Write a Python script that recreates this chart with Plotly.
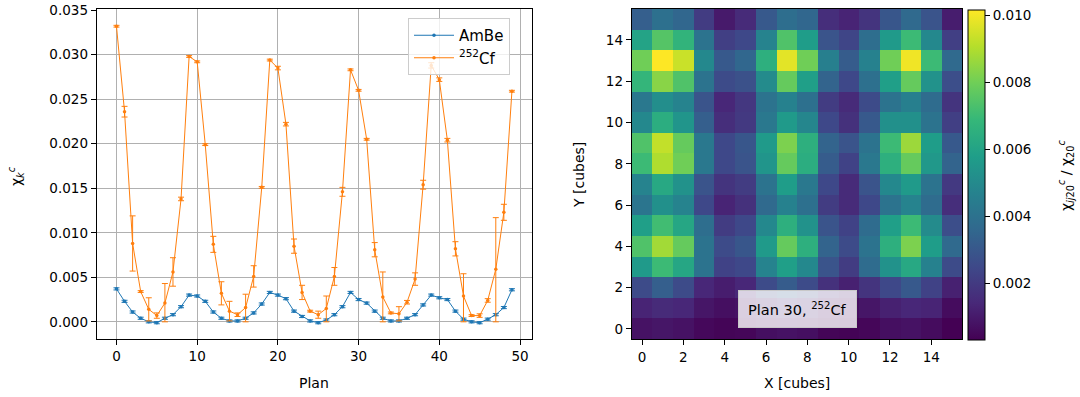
import plotly.graph_objects as go

# ---------------- data: left panel ----------------
plan = list(range(50))
ambe = [0.0037, 0.0023, 0.0011, 0.0004, 0.0000, -0.0001, 0.0004, 0.0008, 0.0017, 0.0030,
        0.0029, 0.0023, 0.0011, 0.0004, 0.0001, 0.0001, 0.0004, 0.0010, 0.0020, 0.0033,
        0.0030, 0.0026, 0.0012, 0.0006, 0.0001, -0.0001, 0.0002, 0.0008, 0.0017, 0.0033,
        0.0025, 0.0021, 0.0012, 0.0004, 0.0001, 0.0001, 0.0004, 0.0008, 0.0019, 0.0030,
        0.0027, 0.0025, 0.0012, 0.0003, 0.0000, -0.0001, 0.0003, 0.0008, 0.0016, 0.0036]
ambe_err = [0.00012] * 50
cf = [0.0332, 0.0236, 0.0088, 0.0034, 0.0014, 0.0007, 0.0021, 0.0056, 0.0138, 0.0298,
      0.0292, 0.0199, 0.0087, 0.0032, 0.0012, 0.0008, 0.0016, 0.0051, 0.0151, 0.0294,
      0.0285, 0.0222, 0.0085, 0.0033, 0.0012, 0.0008, 0.0015, 0.0051, 0.0146, 0.0283,
      0.0260, 0.0205, 0.0081, 0.0028, 0.0010, 0.0009, 0.0022, 0.0048, 0.0154, 0.0288,
      0.0272, 0.0204, 0.0082, 0.0029, 0.0007, 0.0007, 0.0024, 0.0059, 0.0123, 0.0259]
cf_err_up = [0.0001, 0.0006, 0.0031, 0.0001, 0.0013, 0.0003, 0.0022, 0.0016, 0.0002, 0.0001,
             0.0001, 0.0001, 0.0009, 0.0013, 0.0011, 0.0002, 0.0015, 0.0012, 0.0001, 0.0001,
             0.0002, 0.0002, 0.0008, 0.0008, 0.0001, 0.0004, 0.0014, 0.0010, 0.0005, 0.0001,
             0.0001, 0.0001, 0.0008, 0.0028, 0.0001, 0.0008, 0.0002, 0.0007, 0.0005, 0.0003,
             0.0002, 0.0002, 0.0008, 0.0025, 0.0001, 0.0002, 0.0002, 0.0058, 0.0009, 0.0001]
cf_err_down = [0.0001, 0.0006, 0.0031, 0.0001, 0.0013, 0.0003, 0.0021, 0.0016, 0.0002, 0.0001,
               0.0001, 0.0001, 0.0009, 0.0013, 0.0011, 0.0002, 0.0016, 0.0012, 0.0001, 0.0001,
               0.0002, 0.0002, 0.0008, 0.0008, 0.0001, 0.0004, 0.0015, 0.0010, 0.0005, 0.0001,
               0.0001, 0.0001, 0.0008, 0.0028, 0.0001, 0.0008, 0.0002, 0.0007, 0.0005, 0.0003,
               0.0002, 0.0002, 0.0008, 0.0029, 0.0001, 0.0002, 0.0002, 0.0059, 0.0009, 0.0001]
left_yticks = [0.000, 0.005, 0.010, 0.015, 0.020, 0.025, 0.030, 0.035]
left_xticks = [0, 10, 20, 30, 40, 50]

# ---------------- data: right panel (values x 1e-3), row index = Y ----------------
cube_x = list(range(16))
cube_y = list(range(16))
ratio_e3 = [
    [0.79, 0.89, 0.79, 0.50, 0.40, 0.45, 0.69, 0.79, 0.69, 0.40, 0.35, 0.45, 0.69, 0.79, 0.60, 0.30],
    [1.29, 1.48, 1.38, 0.89, 0.69, 0.79, 1.19, 1.68, 1.29, 0.79, 0.60, 0.89, 1.19, 1.38, 1.29, 0.60],
    [2.57, 3.26, 2.57, 1.38, 1.09, 1.38, 2.57, 3.16, 2.57, 1.68, 1.19, 1.78, 2.47, 3.06, 2.27, 1.19],
    [5.62, 7.00, 6.11, 4.04, 2.27, 2.47, 4.73, 5.82, 4.93, 2.86, 2.07, 3.75, 5.32, 6.21, 4.63, 2.57],
    [7.39, 8.77, 7.79, 4.04, 2.57, 2.96, 5.62, 7.79, 6.51, 3.45, 2.57, 4.04, 6.51, 8.18, 5.72, 3.65],
    [5.82, 7.10, 6.11, 3.85, 2.07, 2.47, 4.93, 6.51, 5.32, 2.86, 2.27, 3.75, 5.82, 7.00, 5.03, 2.66],
    [4.14, 5.23, 4.73, 2.47, 1.29, 1.68, 3.65, 4.63, 3.94, 2.07, 1.48, 2.47, 4.04, 4.73, 3.75, 1.58],
    [4.73, 6.21, 5.32, 2.86, 1.78, 2.07, 4.04, 5.72, 4.24, 2.47, 1.48, 2.86, 4.93, 5.62, 4.04, 1.97],
    [7.00, 8.97, 7.98, 4.24, 2.47, 2.86, 5.42, 7.79, 6.41, 3.16, 2.27, 4.24, 6.51, 7.79, 5.52, 3.45],
    [7.39, 9.26, 7.79, 4.24, 2.47, 2.96, 5.62, 8.18, 6.51, 3.45, 2.86, 4.04, 7.00, 8.67, 5.72, 3.06],
    [4.93, 6.41, 5.42, 3.26, 1.58, 1.97, 4.24, 5.62, 4.83, 2.47, 1.68, 3.06, 5.23, 5.23, 4.04, 2.17],
    [4.24, 5.13, 4.73, 2.86, 1.38, 1.88, 4.04, 4.63, 3.94, 2.07, 1.48, 2.57, 4.04, 4.54, 3.75, 1.78],
    [6.80, 8.38, 7.39, 4.04, 2.57, 2.76, 5.03, 7.79, 5.82, 3.45, 2.47, 3.94, 5.82, 7.79, 5.32, 2.66],
    [7.98, 10.15, 9.36, 4.93, 3.06, 3.55, 6.51, 9.76, 7.98, 4.54, 3.16, 4.63, 7.98, 9.95, 7.00, 3.65],
    [6.01, 7.49, 6.70, 4.04, 2.17, 2.47, 4.73, 7.39, 5.72, 2.86, 2.37, 3.85, 5.62, 7.00, 4.93, 2.17],
    [3.26, 3.94, 3.55, 2.07, 0.99, 1.48, 3.06, 3.85, 3.55, 1.58, 1.29, 1.78, 2.96, 3.65, 2.86, 1.09],
]
cube_ticks = [0, 2, 4, 6, 8, 10, 12, 14]
cbar_ticks = [0.002, 0.004, 0.006, 0.008, 0.010]

ratio = [[v * 1e-3 for v in row] for row in ratio_e3]

W, H = 1080, 397
FONT = "DejaVu Sans"
BLUE = "#1f77b4"
ORANGE = "#ff7f0e"


def fx(px):
    return px / W


def fy(py):
    return 1 - py / H


fig = go.Figure()

fig.add_trace(go.Scatter(
    x=plan, y=ambe, mode="lines+markers", name="AmBe",
    line=dict(color=BLUE, width=1), marker=dict(color=BLUE, size=3.5),
    error_y=dict(type="data", array=ambe_err, color=BLUE, thickness=1, width=3),
    xaxis="x", yaxis="y"))
fig.add_trace(go.Scatter(
    x=plan, y=cf, mode="lines+markers", name="<sup>252</sup>Cf",
    line=dict(color=ORANGE, width=1), marker=dict(color=ORANGE, size=3.5),
    error_y=dict(type="data", symmetric=False, array=cf_err_up, arrayminus=cf_err_down,
                 color=ORANGE, thickness=1, width=3),
    xaxis="x", yaxis="y"))

fig.add_trace(go.Heatmap(
    x=cube_x, y=cube_y, z=ratio, colorscale="Viridis",
    zmin=0.0003, zmax=0.01015, xaxis="x2", yaxis="y2", hoverinfo="skip",
    colorbar=dict(
        x=fx(968.3), xanchor="left", xpad=0, ypad=0,
        y=fy(340), yanchor="bottom", len=330 / H, lenmode="fraction",
        thickness=16.7, thicknessmode="pixels",
        outlinecolor="black", outlinewidth=1,
        tickvals=cbar_ticks, tickformat=".3f", ticks="outside", ticklen=5,
        tickcolor="black", tickfont=dict(family=FONT, size=13.5, color="black"),
    )))

axis_common = dict(showline=True, linecolor="black", linewidth=1, mirror=True,
                   ticks="outside", ticklen=5, tickcolor="black", automargin=False,
                   tickfont=dict(family=FONT, size=13.5, color="black"), zeroline=False)

fig.update_layout(
    width=W, height=H, margin=dict(l=0, r=0, t=0, b=0, autoexpand=False),
    paper_bgcolor="white", plot_bgcolor="white",
    font=dict(family=FONT, size=13.5, color="black"),
    xaxis=dict(domain=[fx(96.7), fx(531.7)], range=[-2.45, 51.45], tickvals=left_xticks,
               showgrid=True, gridcolor="#b0b0b0", gridwidth=0.8, anchor="y", **axis_common),
    yaxis=dict(domain=[fy(339), fy(9.3)], range=[-0.00193, 0.0351], tickvals=left_yticks,
               tickformat=".3f", showgrid=True, gridcolor="#b0b0b0", gridwidth=0.8,
               anchor="x", **axis_common),
    xaxis2=dict(domain=[fx(631.7), fx(962.3)], range=[-0.5, 15.5], tickvals=cube_ticks,
                showgrid=False, anchor="y2", **axis_common),
    yaxis2=dict(domain=[fy(339.3), fy(9)], range=[-0.5, 15.5], tickvals=cube_ticks,
                showgrid=False, anchor="x2", **axis_common),
    legend=dict(x=fx(408), y=fy(18), xanchor="left", yanchor="top",
                bgcolor="rgba(255,255,255,0.8)", bordercolor="#cccccc", borderwidth=1,
                font=dict(family=FONT, size=15, color="black"),
                tracegroupgap=0, itemwidth=40),
    showlegend=True,
)

ann_common = dict(xref="paper", yref="paper", showarrow=False,
                  xanchor="center", yanchor="middle")
annotations = [
    dict(text="Plan", x=fx(314), y=fy(383), font=dict(size=14), **ann_common),
    dict(text="χ<sub><i>k</i></sub><sup><i>c</i></sup>", x=fx(16), y=fy(176),
         textangle=-90, font=dict(size=14), **ann_common),
    dict(text="X [cubes]", x=fx(797), y=fy(383), font=dict(size=14), **ann_common),
    dict(text="Y [cubes]", x=fx(579), y=fy(175), textangle=-90, font=dict(size=14),
         **ann_common),
    dict(text="χ<sub><i>ij</i>20</sub><sup><i>c</i></sup> / χ<sub>20</sub><sup><i>c</i></sup>",
         x=fx(1066), y=fy(175), textangle=-90, font=dict(size=14), **ann_common),
    dict(text="Plan 30, <sup>252</sup>Cf", x=fx(797), y=fy(309), font=dict(size=14.5),
         bgcolor="rgba(255,255,255,0.8)", bordercolor="#c8c8c8", borderwidth=1, borderpad=9,
         **ann_common),
]
fig.update_layout(annotations=annotations)

fig.write_html("out.html", config={"displayModeBar": False},
               post_script="document.body.style.margin='0px';")
